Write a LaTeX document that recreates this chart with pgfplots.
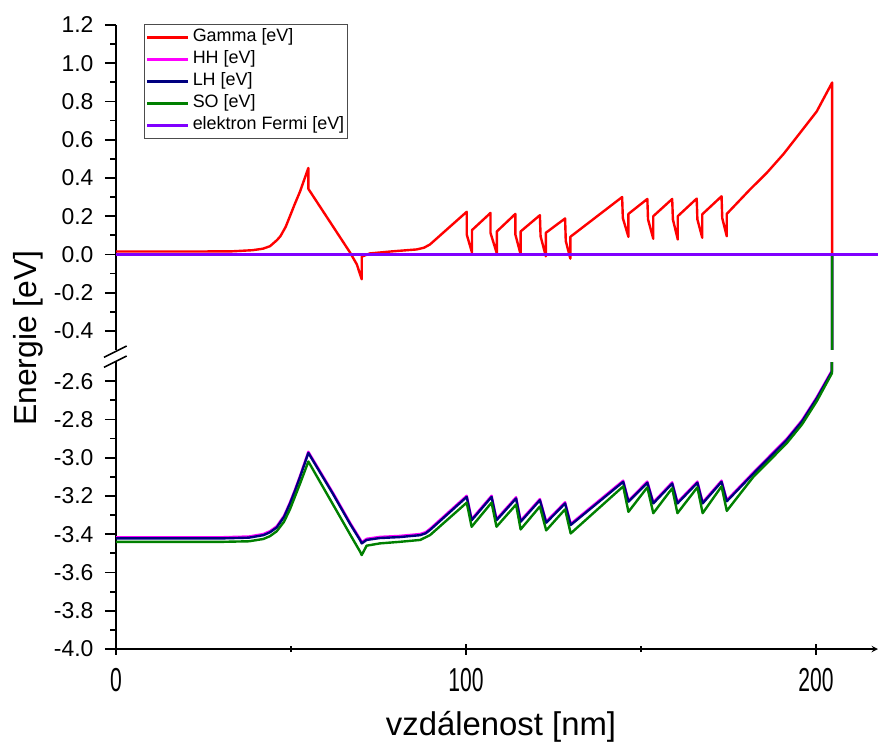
\documentclass[border=0pt]{standalone}
\usepackage{pgfplots}
\pgfplotsset{compat=1.18}
\usepackage{pgfplotstable}
\usepackage{fontspec}
\setmainfont{Liberation Sans}

\definecolor{cGamma}{RGB}{255,0,0}
\definecolor{cHH}{RGB}{255,0,255}
\definecolor{cLH}{RGB}{0,0,128}
\definecolor{cSO}{RGB}{0,128,0}
\definecolor{cFermi}{RGB}{128,0,255}

% conduction band edge (Gamma)
\pgfplotstableread{
x y
0 0.015
20 0.015
33 0.016
39 0.022
42 0.030
44 0.043
46 0.075
47 0.096
48.5 0.145
49.7 0.200
51 0.260
52.6 0.330
54.95 0.452
54.95 0.343
66.9 0.009
68.8 -0.052
70.2 -0.130
70.2 -0.012
72.5 0.005
78.3 0.015
85.9 0.026
88 0.035
89.7 0.052
100.2 0.223
100.2 0.104
101.7 0.010
101.7 0.127
107.0 0.217
107.0 0.112
108.8 0.005
108.8 0.120
114.1 0.212
114.1 0.104
115.6 0.000
115.6 0.120
121.1 0.205
121.3 0.095
122.8 -0.010
122.8 0.113
128.3 0.188
128.5 0.070
129.8 -0.022
129.8 0.092
144.6 0.300
144.8 0.190
146.4 0.092
146.4 0.212
151.8 0.290
152.0 0.183
153.5 0.082
153.5 0.200
158.9 0.290
159.1 0.183
160.5 0.078
160.5 0.200
165.9 0.292
166.1 0.183
167.5 0.087
167.5 0.210
173.0 0.304
173.2 0.190
174.5 0.095
174.5 0.212
181.1 0.339
185.9 0.426
190.7 0.525
195.4 0.635
200.2 0.748
204.6 0.899
204.6 0.000
}\gammatab

% heavy holes
\pgfplotstableread{
x y
0 -3.416
30 -3.416
38 -3.412
42.1 -3.399
44 -3.384
45.9 -3.359
48 -3.304
49.7 -3.234
51.2 -3.164
52.6 -3.094
54.95 -2.969
62 -3.184
67 -3.344
69.7 -3.424
70.2 -3.442
71.6 -3.424
75.4 -3.414
81 -3.409
86.9 -3.399
88.5 -3.389
89.7 -3.372
100.2 -3.199
101.6 -3.321
107.3 -3.199
108.7 -3.321
114.3 -3.207
115.6 -3.329
121.1 -3.216
122.9 -3.334
128.3 -3.233
129.9 -3.346
144.9 -3.120
146.4 -3.224
151.8 -3.125
153.5 -3.233
158.9 -3.129
160.4 -3.233
166.1 -3.125
167.6 -3.233
173.0 -3.120
174.5 -3.222
182.1 -3.077
191.6 -2.902
196 -2.804
200.2 -2.684
204.5 -2.545
204.6 0.000
}\hhtab

% light holes
\pgfplotstableread{
x y
0 -3.422
30 -3.422
38 -3.418
42.1 -3.405
44 -3.390
45.9 -3.365
48 -3.310
49.7 -3.240
51.2 -3.170
52.6 -3.100
54.95 -2.975
62 -3.190
67 -3.350
69.7 -3.430
70.2 -3.448
71.6 -3.430
75.4 -3.420
81 -3.415
86.9 -3.405
88.5 -3.395
89.7 -3.378
100.2 -3.205
101.6 -3.327
107.3 -3.205
108.7 -3.327
114.3 -3.213
115.6 -3.335
121.1 -3.222
122.9 -3.340
128.3 -3.239
129.9 -3.352
144.9 -3.126
146.4 -3.230
151.8 -3.131
153.5 -3.239
158.9 -3.135
160.4 -3.239
166.1 -3.131
167.6 -3.239
173.0 -3.126
174.5 -3.228
182.1 -3.083
191.6 -2.908
196 -2.810
200.2 -2.690
204.5 -2.551
204.6 0.000
}\lhtab

% split-off band
\pgfplotstableread{
x y
0 -3.440
30 -3.440
38 -3.437
42.1 -3.425
44 -3.410
45.9 -3.385
48 -3.335
49.7 -3.270
51.2 -3.200
52.6 -3.135
54.95 -3.020
62 -3.245
67 -3.405
69.7 -3.490
70.2 -3.509
71.6 -3.460
75.4 -3.448
81 -3.440
86.9 -3.430
89.7 -3.405
100.2 -3.235
101.6 -3.361
107.3 -3.235
108.7 -3.361
114.3 -3.245
115.6 -3.375
121.1 -3.255
122.9 -3.380
128.3 -3.270
129.9 -3.396
144.9 -3.150
146.4 -3.283
151.8 -3.155
153.5 -3.290
158.9 -3.160
160.4 -3.290
166.1 -3.155
167.6 -3.290
173.0 -3.150
174.5 -3.278
182.1 -3.100
191.6 -2.925
196 -2.826
200.2 -2.705
204.5 -2.560
204.6 0.000
}\sotab

% Fermi level
\pgfplotstableread{
x y
0 0
217.7 0
}\fermitab

\pgfplotsset{
  bandaxis/.style={
    scale only axis, width=762bp,
    xmin=0, xmax=217.7,
    axis y line=left,
    axis line style={-, line width=1.8bp, black},
    tick align=outside,
    major tick length=11bp, minor tick length=6bp,
    every tick/.style={line width=1.8bp, black},
    tick label style={font=\fontsize{23}{27}\selectfont},
    /pgf/number format/assume math mode=true,
    yticklabel style={xshift=-8bp,
      /pgf/number format/.cd, fixed, fixed zerofill, precision=1},
    xticklabel style={yshift=-9bp, xscale=0.92, yscale=1.45},
    clip=true,
  },
  band/.style={line width=2.4bp, line join=round},
}

\begin{document}
\begin{tikzpicture}
\path[use as bounding box] (0,0) rectangle (878bp,-744bp);

% upper segment: conduction band and Fermi level
\begin{axis}[bandaxis,
  at={(116bp,-350bp)}, anchor=south west, height=325bp,
  ymin=-0.5, ymax=1.2,
  axis x line=none,
  ytick={-0.4,-0.2,0,0.2,0.4,0.6,0.8,1.0,1.2},
  minor ytick={-0.3,-0.1,0.1,0.3,0.5,0.7,0.9,1.1},
  legend style={at={(0.0367,1.003)}, anchor=north west,
    draw=black!70, line width=0.8bp, fill=white,
    font=\fontsize{18}{21}\selectfont, inner ysep=3bp, inner xsep=1.5bp,
    row sep=2bp,
    nodes={inner sep=1.5bp, text height=13bp, text depth=4bp},
    /tikz/every odd column/.append style={column sep=2bp}},
  legend cell align=left,
  legend image code/.code={\draw[#1, line width=2.4bp] (0bp,0bp) -- (41bp,0bp);},
]
\addplot[band, cGamma] table {\gammatab};
\addlegendentry{Gamma [eV]}
\addplot[band, cHH] table {\hhtab};
\addlegendentry{HH [eV]}
\addplot[band, cLH] table {\lhtab};
\addlegendentry{LH [eV]}
\addplot[band, cSO] table {\sotab};
\addlegendentry{SO [eV]}
\addplot[band, cFermi] table {\fermitab};
\addlegendentry{elektron Fermi [eV]}
\end{axis}

% lower segment: valence bands
\begin{axis}[bandaxis,
  at={(116bp,-649bp)}, anchor=south west, height=287bp,
  ymin=-4.0, ymax=-2.5,
  axis x line=bottom,
  xtick={0,100,200}, minor xtick={50,150},
  ytick={-4.0,-3.8,-3.6,-3.4,-3.2,-3.0,-2.8,-2.6},
  minor ytick={-3.9,-3.7,-3.5,-3.3,-3.1,-2.9,-2.7},
]
\addplot[band, cGamma] table {\gammatab};
\addplot[band, cHH] table {\hhtab};
\addplot[band, cLH] table {\lhtab};
\addplot[band, cSO] table {\sotab};
\addplot[band, cFermi] table {\fermitab};
\end{axis}

% axis break marks
\draw[line width=1.6bp] (104bp,-357.3bp) -- (126.7bp,-346bp);
\draw[line width=1.6bp] (104bp,-367.3bp) -- (126.7bp,-356bp);

% axis titles
\node[font=\fontsize{33}{38}\selectfont] at (501bp,-727bp) {vzdálenost [nm]};
\node[font=\fontsize{32}{37}\selectfont, rotate=90] at (28bp,-338bp) {Energie [eV]};
\end{tikzpicture}
\end{document}
